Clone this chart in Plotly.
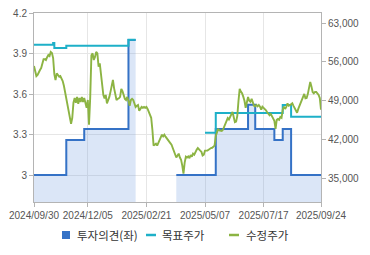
import pandas as pd
import plotly.graph_objects as go

# ---------------- data ----------------
krx_holidays = ["2024-10-01", "2024-10-03", "2024-10-09", "2024-12-25", "2024-12-31",
                "2025-01-01", "2025-01-27", "2025-01-28", "2025-01-29", "2025-01-30",
                "2025-03-03", "2025-05-01", "2025-05-05", "2025-05-06", "2025-06-03",
                "2025-06-06", "2025-08-15"]
trade_dates = pd.bdate_range("2024-09-30", "2025-09-24", freq="C", holidays=krx_holidays)

tick_dates = ["2024-09-30", "2024-12-05", "2025-02-21", "2025-05-07", "2025-07-17", "2025-09-24"]
left_ticks = [3, 3.3, 3.6, 3.9, 4.2]
right_ticks = [35000, 42000, 49000, 56000, 63000]

# 투자의견 (step, left axis)
opinion_dates = ["2024-09-30", "2024-11-11", "2024-12-02", "2025-01-31", "2025-02-10", "2025-02-11",
                 "2025-03-31", "2025-05-20", "2025-06-30", "2025-07-08", "2025-07-30", "2025-08-08",
                 "2025-08-20", "2025-09-24"]
opinion_values = [3.0, 3.26, 3.34, 4.0, 4.0, None,
                  3.0, 3.34, 3.52, 3.34, 3.26, 3.34,
                  3.0, 3.0]

# 목표주가 (step, right axis)
target_dates = ["2024-09-30", "2024-10-25", "2024-10-28", "2024-11-11", "2025-01-31", "2025-02-10",
                "2025-02-11", "2025-05-07", "2025-05-20", "2025-08-08", "2025-08-20", "2025-09-24"]
target_values = [59100, 59400, 58500, 58900, 60000, 60000,
                 None, 43250, 46800, 48250, 46150, 46150]

# 수정주가 (daily, right axis)
price_values = [
    55250, 54200, 53450, 53650, 54200, 54550, 54900, 55750, 56500, 56500,
    56350, 56850, 57250, 57050, 57800, 57600, 56700, 53800, 52750, 53950,
    53650, 53350, 53450, 53100, 52550, 51700, 50600, 49500, 48250, 46850,
    45750, 44850, 45950, 48650, 49500, 48650, 49700, 48450, 49500, 48800,
    49700, 48800, 49500, 48250, 47750, 49150, 44700, 49500, 57200, 57550,
    56350, 56900, 57800, 57550, 55150, 55750, 53650, 52150, 50050, 49450,
    50050, 48550, 49000, 49700, 50650, 51850, 52750, 51250, 50050, 49150,
    49350, 49450, 49700, 51150, 50750, 50050, 49350, 49150, 49700, 49000,
    48100, 49150, 49350, 49150, 48650, 47900, 48100, 48250, 47200, 47550,
    47900, 47750, 47900, 47750, 47900, 47550, 47000, 46300, 45950, 43800,
    40950, 41100, 41300, 40950, 41450, 41800, 42350, 42900, 42600, 42900,
    42550, 42200, 42000, 41650, 41400, 41100, 40550, 39900, 39150, 38800,
    39150, 39500, 38800, 38400, 37350, 35900, 37900, 38950, 38800, 39000,
    38700, 39250, 38950, 39500, 39300, 39850, 40200, 40500, 40350, 40050,
    39850, 39150, 39300, 40050, 40050, 40050, 40200, 40400, 40500, 40550,
    40750, 40950, 42700, 43500, 43950, 43700, 43600, 43600, 43800, 44350,
    45050, 45500, 45900, 45650, 46100, 46650, 47000, 46100, 45150, 45250,
    46300, 49000, 51150, 50650, 50350, 49750, 49000, 47750, 48650, 49700,
    49000, 48800, 49350, 48450, 48100, 48000, 48250, 48000, 48250, 47950,
    47400, 47950, 47750, 47450, 47300, 46950, 46550, 46400, 46650, 46300,
    45950, 45400, 43950, 45600, 45750, 45600, 46100, 45950, 47400, 47950,
    47550, 47900, 48550, 48100, 48200, 48350, 48550, 48100, 47650, 47300,
    46850, 47550, 48100, 48550, 49150, 49900, 50250, 49450, 49500, 50250,
    51300, 52400, 51600, 50600, 50350, 50600, 50600, 50350, 50050, 49500,
    47400,
]

names = ["투자의견(좌)", "목표주가", "수정주가"]
c_blue, c_fill, c_cyan, c_green = "#3572c6", "rgba(110,155,225,0.25)", "#1eb0c8", "#8cb443"

W, H = 370, 255
M = dict(l=34, r=49, t=13, b=53)
PW, PH = W - M["l"] - M["r"], H - M["t"] - M["b"]


def px_to_paper(px, py):
    return (px - M["l"]) / PW, (H - M["b"] - py) / PH


# split the opinion series into continuous segments so each fills on its own
segments, cur = [], ([], [])
for d, v in zip(opinion_dates, opinion_values):
    if v is None:
        if cur[0]:
            segments.append(cur)
        cur = ([], [])
    else:
        cur[0].append(d)
        cur[1].append(v)
if cur[0]:
    segments.append(cur)

# ---------------- figure ----------------
fig = go.Figure()
for sx, sy in segments:
    fig.add_trace(go.Scatter(x=sx, y=sy, mode="lines", line_shape="hv",
                             line=dict(color=c_blue, width=2), fill="tozeroy", fillcolor=c_fill,
                             showlegend=False, name=names[0]))
fig.add_trace(go.Scatter(x=target_dates, y=target_values, mode="lines", line_shape="hv",
                         line=dict(color=c_cyan, width=2), connectgaps=False,
                         yaxis="y2", showlegend=False, name=names[1]))
fig.add_trace(go.Scatter(x=trade_dates, y=price_values, mode="lines",
                         line=dict(color=c_green, width=1.9), yaxis="y2",
                         showlegend=False, name=names[2]))

# custom legend (symbol + label) below the plot
legend_items = [
    dict(kind="square", color=c_blue, x0=62, x1=70, tx=75),
    dict(kind="line", color=c_cyan, x0=146, x1=156, tx=160),
    dict(kind="line", color=c_green, x0=229, x1=239, tx=244),
]
ly = 235
for name, it in zip(names, legend_items):
    if it["kind"] == "square":
        ax0, ay0 = px_to_paper(it["x0"], ly + 4)
        ax1, ay1 = px_to_paper(it["x1"], ly - 4)
        fig.add_shape(type="rect", xref="paper", yref="paper", x0=ax0, x1=ax1, y0=ay0, y1=ay1,
                      fillcolor=it["color"], line=dict(width=0))
    else:
        ax0, ay = px_to_paper(it["x0"], ly)
        ax1, _ = px_to_paper(it["x1"], ly)
        fig.add_shape(type="line", xref="paper", yref="paper", x0=ax0, x1=ax1, y0=ay, y1=ay,
                      line=dict(color=it["color"], width=2.5))
    tx, ty = px_to_paper(it["tx"], ly)
    fig.add_annotation(text=name, xref="paper", yref="paper", x=tx, y=ty,
                       xanchor="left", yanchor="middle", showarrow=False,
                       font=dict(size=11.5, color="#333333",
                                 family="Noto Sans CJK KR, sans-serif"))

axis_line = "#b4b4b4"
grid = "#e6e6e6"
tickfont = dict(size=10, color="#555555")
fig.update_layout(
    width=W, height=H,
    margin=M,
    showlegend=False,
    plot_bgcolor="white", paper_bgcolor="white",
    font=dict(family="Liberation Sans, Noto Sans CJK KR, sans-serif", color="#555555"),
    xaxis=dict(type="date", range=[tick_dates[0], tick_dates[-1]],
               rangebreaks=[dict(bounds=["sat", "mon"]), dict(values=krx_holidays)],
               tickvals=tick_dates, tickformat="%Y/%m/%d", tickfont=tickfont,
               showgrid=True, gridcolor=grid, gridwidth=1,
               showline=True, linecolor=axis_line, mirror=True,
               ticks="outside", ticklen=4, tickcolor=axis_line, zeroline=False,
               automargin=False),
    yaxis=dict(range=[2.8, 4.2], tickvals=left_ticks, tickfont=tickfont,
               showgrid=True, gridcolor=grid, showline=True, linecolor=axis_line,
               ticks="outside", ticklen=4, tickcolor=axis_line, zeroline=False,
               automargin=False),
    yaxis2=dict(range=[30800, 64800], tickvals=right_ticks, tickformat=",", tickfont=tickfont,
                overlaying="y", side="right", showgrid=False, showline=True,
                linecolor=axis_line, ticks="outside", ticklen=4, tickcolor=axis_line,
                zeroline=False, automargin=False),
)

fig.write_html("out.html")
